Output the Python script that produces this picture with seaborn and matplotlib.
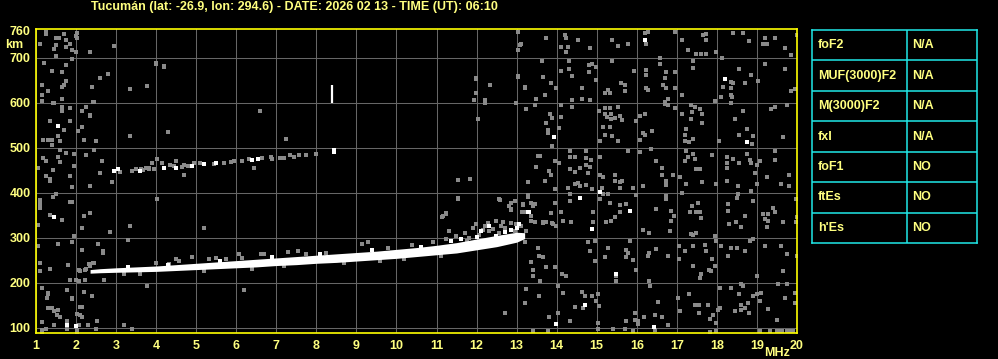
import matplotlib
matplotlib.use("Agg")
import matplotlib.pyplot as plt
import seaborn as sns
import pandas as pd

# ---------------- text ----------------
title = "Tucumán (lat: -26.9, lon: 294.6) - DATE: 2026 02 13 - TIME (UT): 06:10"
freq_ticks = list(range(1, 21))
height_ticks = [100, 200, 300, 400, 500, 600, 700, 760]
param_names = ["foF2", "MUF(3000)F2", "M(3000)F2", "fxI", "foF1", "ftEs", "h'Es"]
param_values = ["N/A", "N/A", "N/A", "N/A", "NO", "NO", "NO"]

# ---------------- main F-layer trace (MHz, km) ----------------
trace_freq = [2.35, 2.6, 3.0, 3.5, 4.0, 4.5, 5.0, 5.5, 6.0, 6.5, 7.0, 7.5, 8.0,
              8.5, 9.0, 9.5, 10.0, 10.5, 11.0, 11.5, 12.0, 12.5, 13.0, 13.2]
trace_low = [221, 222, 223, 224, 225, 227, 229, 231, 233, 235, 238, 240, 243,
             245, 248, 251, 254, 258, 262, 266, 273, 280, 290, 298]
trace_high = [229, 231, 233, 235, 237, 240, 243, 246, 249, 252, 255, 258, 261,
              264, 267, 270, 274, 278, 283, 289, 297, 305, 312, 311]

# grey speckle around the trace
trace_spread = [(4.9, 258), (5.32, 252), (5.49, 255), (5.74, 252), (6.07, 263), (6.14, 255),
                (6.61, 263), (6.7, 263), (7.28, 268), (7.53, 270), (7.74, 263), (8.24, 267),
                (4.57, 248), (3.99, 244), (2.45, 244), (2.32, 241), (2.24, 230), (2.07, 227),
                (4.32, 241), (4.49, 253), (9.15, 285), (9.3, 290), (11.24, 296), (11.49, 304),
                (11.9, 322), (11.99, 330), (12.2, 327), (12.28, 333), (12.32, 315), (12.49, 337),
                (12.65, 335), (12.86, 333), (12.99, 330), (13.11, 326), (13.14, 304), (12.95, 315),
                (12.57, 311), (12.82, 300), (12.95, 381), (12.82, 370), (12.86, 363), (13.15, 374),
                (13.36, 378), (13.42, 370), (13.65, 333), (13.89, 333), (13.86, 355), (12.57, 385),
                (11.53, 389), (11.24, 352), (11.15, 348), (11.7, 310), (11.8, 300), (12.05, 305),
                (12.4, 320), (12.7, 322), (10.9, 290), (10.4, 283), (9.8, 278), (11.3, 315),
                (3.2, 219), (3.6, 220), (5.2, 226), (6.4, 231), (7.2, 236), (8.7, 243),
                (9.6, 249), (10.2, 253), (11.1, 260), (11.75, 293), (12.15, 318), (12.6, 326)]
trace_bright = [(13.09, 307), (12.9, 296), (12.4, 289), (12.49, 304), (12.11, 315),
                (12.32, 326), (11.6, 298), (12.7, 312), (11.35, 292), (12.0, 301),
                (12.85, 318), (13.0, 322), (5.6, 248), (6.9, 257), (8.1, 263), (9.4, 272),
                (10.6, 280), (3.3, 235), (4.3, 239)]

# second-hop echo
echo2_freq = [3.09, 3.40, 3.49, 3.61, 3.67, 3.74, 3.82, 3.82, 3.89, 3.95, 4.03, 4.14, 4.34,
              4.45, 4.49, 4.65, 4.70, 4.80, 4.95, 5.09, 5.45, 5.70, 5.86, 5.95, 6.15, 6.32,
              6.64, 6.86, 6.90, 7.09, 7.20, 7.34, 7.45, 7.57, 7.74, 7.99, 4.03, 4.49]
echo2_height = [446, 448, 452, 453, 450, 456, 453, 454, 465, 452, 474, 465, 461,
                460, 470, 457, 461, 460, 465, 465, 463, 465, 469, 470, 470, 475,
                477, 480, 476, 478, 478, 483, 480, 483, 483, 487, 474, 470]
echo2_bright_freq = [2.94, 3.05, 3.59, 4.20, 4.49, 4.89, 5.20, 5.49, 6.39, 6.54, 8.45]
echo2_bright_height = [448, 452, 448, 454, 454, 460, 463, 465, 472, 475, 491]

# isolated vertical spike
spike_freq = [8.40]
spike_low = [600]
spike_high = [640]

# ---------------- background noise (MHz, km) ----------------
noise_left = [
    (1.14, 603), (1.43, 600), (1.64, 591), (1.64, 581), (1.85, 588), (2.14, 581), (2.24, 591),
    (2.35, 571), (2.43, 601), (1.35, 559), (1.85, 559), (1.70, 540), (2.04, 537), (2.14, 546),
    (1.54, 527), (1.18, 518), (1.30, 518), (1.39, 518), (1.60, 514), (1.39, 505), (2.20, 518),
    (2.49, 514), (3.34, 525), (1.60, 496), (1.74, 488), (1.95, 487), (2.45, 496), (2.24, 483),
    (1.18, 477), (1.26, 470), (1.54, 479), (1.60, 468), (1.95, 460), (1.04, 455), (2.64, 470),
    (1.43, 451), (1.85, 438), (1.24, 438), (1.35, 431), (1.35, 427), (2.60, 444), (2.89, 423),
    (1.89, 413), (2.35, 414), (1.49, 396), (1.43, 391), (1.10, 383), (1.10, 374), (1.10, 366),
    (1.85, 379), (1.89, 379), (1.35, 351), (1.64, 340), (2.20, 348), (2.35, 355), (1.05, 329),
    (2.14, 322), (2.85, 312), (3.35, 325), (1.95, 303), (1.04, 281), (1.54, 285), (1.89, 290),
    (2.54, 285), (2.68, 270), (2.68, 266), (2.14, 272), (3.29, 294), (1.10, 244), (1.10, 225),
    (1.35, 231), (1.80, 240), (2.09, 225), (2.35, 238), (2.43, 244), (2.22, 229),
    (1.24, 757), (1.24, 752), (1.10, 730), (1.49, 743), (1.57, 743), (1.49, 728), (1.45, 720),
    (1.70, 752), (1.74, 740), (1.74, 723), (1.84, 730), (1.90, 717), (1.99, 713), (2.03, 756),
    (2.03, 743), (1.99, 748), (2.34, 713), (2.94, 726), (1.20, 688), (1.39, 671), (1.64, 668),
    (1.49, 704), (1.89, 698), (1.74, 683), (1.14, 639), (1.30, 626), (1.14, 617), (1.64, 636),
    (1.70, 639), (1.74, 648), (1.14, 604), (1.45, 599), (1.64, 608), (1.64, 589), (1.84, 589),
    (2.14, 582), (2.24, 591), (2.34, 572), (2.39, 634), (2.45, 602), (2.59, 656), (2.80, 665),
    (3.34, 630), (3.78, 637), (3.99, 688), (4.20, 680), (6.60, 582),
    (1.14, 188), (1.30, 177), (1.30, 174), (1.78, 183), (1.89, 166), (1.89, 163), (1.28, 166),
    (2.20, 179), (2.39, 170), (1.30, 144), (1.39, 144), (1.45, 137), (1.55, 140), (1.53, 129),
    (1.61, 124), (2.03, 131), (2.09, 127), (2.14, 124), (2.09, 146), (2.14, 146), (1.14, 112),
    (1.78, 114), (2.53, 114), (1.45, 105), (2.07, 105), (2.30, 105), (2.49, 97), (3.20, 105),
    (3.39, 97), (1.14, 94), (1.24, 96), (1.78, 97), (2.03, 94), (3.78, 192), (6.20, 183),
    (1.84, 206), (1.99, 206), (2.07, 203), (2.22, 205), (2.69, 205), (1.14, 91), (2.03, 91),
]
noise_middle = [
    (3.99, 687), (4.20, 682), (6.59, 581), (4.30, 534), (7.24, 519), (4.70, 439), (6.45, 456),
    (4.03, 387), (5.20, 322), (11.99, 656), (12.34, 639), (11.99, 621), (11.94, 606),
    (12.20, 606), (12.20, 600), (13.03, 717), (13.03, 660), (12.99, 599), (13.03, 758),
    (13.09, 729), (13.03, 717), (13.03, 658), (13.20, 633), (11.99, 652), (13.24, 586),
    (12.04, 563), (11.54, 428), (11.84, 430), (13.29, 423), (11.54, 387), (12.59, 383),
    (12.85, 378), (12.95, 381), (12.85, 361), (13.15, 372), (13.28, 391), (11.24, 354),
    (11.14, 346), (3.82, 454), (4.95, 465),
]
noise_right_upper = [
    (13.10, 730), (13.74, 743), (14.20, 750), (14.24, 743), (14.10, 724), (14.24, 713),
    (14.28, 724), (14.53, 739), (14.84, 721), (15.39, 739), (15.54, 726), (15.79, 730),
    (16.20, 756), (16.28, 757), (16.24, 730), (16.95, 757), (17.14, 739), (17.29, 717),
    (17.49, 709), (17.65, 750), (17.74, 752), (17.74, 739), (17.61, 709), (17.74, 709),
    (17.99, 713), (18.12, 700), (18.39, 756), (18.64, 756), (18.79, 737), (19.14, 730),
    (19.24, 730), (19.20, 744), (19.45, 743), (19.70, 721), (19.84, 706), (19.99, 750),
    (13.64, 692), (13.65, 658), (13.20, 634), (13.49, 608), (13.72, 617), (13.85, 643),
    (13.99, 633), (14.11, 670), (14.30, 692), (14.30, 676), (14.39, 660), (14.64, 632),
    (14.64, 609), (14.39, 606), (14.80, 683), (14.80, 669), (14.88, 687), (14.99, 680),
    (14.99, 650), (14.84, 606), (15.20, 621), (15.28, 628), (15.32, 621), (15.60, 643),
    (15.70, 639), (15.70, 626), (15.39, 692), (15.94, 670), (16.24, 672), (16.24, 661),
    (16.24, 632), (16.28, 629), (16.59, 687), (16.59, 700), (16.74, 669), (16.70, 654),
    (16.65, 639), (16.72, 633), (16.95, 669), (16.95, 633), (16.79, 609), (16.70, 602),
    (17.14, 617), (17.40, 692), (17.40, 678), (17.95, 603), (18.15, 635), (18.34, 646),
    (18.34, 633), (18.40, 643), (18.34, 618), (18.37, 613), (18.34, 600), (18.54, 675),
    (18.70, 643), (18.84, 661), (19.03, 648), (19.20, 687), (19.70, 675), (19.84, 626),
    (19.94, 630), (18.10, 613),
    (13.24, 585), (13.47, 596), (13.84, 576), (13.89, 566), (13.74, 554), (13.78, 539),
    (13.78, 532), (13.89, 504), (14.10, 569), (14.05, 543), (14.39, 590), (14.10, 594),
    (15.05, 581), (15.20, 589), (15.34, 589), (15.20, 576), (15.36, 575), (15.25, 569),
    (15.45, 566), (15.57, 571), (15.36, 563), (15.64, 561), (15.53, 591), (15.15, 545),
    (15.34, 545), (15.20, 528), (15.39, 526), (15.07, 515), (15.54, 515), (15.99, 559),
    (16.09, 571), (16.20, 576), (16.15, 532), (16.20, 528), (16.09, 517), (16.39, 537),
    (16.70, 598), (16.79, 595), (16.95, 589), (17.14, 576), (17.35, 596), (17.45, 591),
    (17.39, 580), (17.57, 587), (17.64, 576), (17.35, 563), (17.64, 554), (17.24, 541),
    (17.20, 528), (17.20, 515), (17.30, 512), (17.40, 520), (18.05, 515), (18.45, 563),
    (18.64, 581), (18.74, 541), (18.54, 528), (18.87, 509), (18.89, 526), (19.34, 586),
    (19.45, 590), (19.74, 595), (19.65, 523),
    (13.53, 482), (13.59, 482), (13.49, 457), (13.82, 448), (13.86, 439), (13.95, 470),
    (14.05, 465), (14.34, 492), (14.34, 480), (14.45, 480), (14.34, 452), (14.45, 446),
    (14.59, 454), (14.74, 492), (14.74, 477), (14.74, 461), (14.82, 457), (14.86, 472),
    (14.78, 443), (15.09, 480), (15.09, 440), (15.15, 435), (15.45, 439), (15.78, 492),
    (16.09, 491), (16.36, 498), (16.49, 470), (16.64, 454), (16.63, 440), (16.90, 439),
    (17.09, 435), (17.24, 492), (17.28, 480), (17.20, 470), (17.40, 487), (17.45, 475),
    (17.49, 452), (17.59, 452), (17.89, 483), (18.25, 480), (18.40, 475), (18.25, 465),
    (18.25, 455), (18.55, 465), (18.74, 487), (18.82, 472), (18.84, 467), (18.99, 461),
    (19.07, 470), (18.95, 443), (19.24, 435), (19.45, 472), (19.45, 492), (19.80, 440),
]
noise_right_lower = [
    (13.28, 424), (13.72, 426), (13.95, 408), (14.28, 411), (14.45, 419), (14.53, 421),
    (14.57, 415), (14.74, 417), (14.89, 408), (15.14, 411), (15.45, 426), (15.57, 423),
    (15.64, 426), (15.57, 411), (15.90, 411), (16.15, 415), (16.74, 426), (16.74, 417),
    (17.24, 419), (17.64, 424), (17.99, 419), (18.24, 426), (18.53, 415), (18.86, 404),
    (18.99, 419), (19.59, 419), (19.80, 415), (13.28, 394), (13.40, 374), (13.15, 372),
    (13.14, 356), (13.24, 356), (13.36, 348), (13.36, 337), (13.45, 334), (13.65, 334),
    (13.74, 334), (13.90, 330), (13.99, 326), (13.45, 374), (13.95, 378), (14.11, 356),
    (14.15, 337), (14.36, 334), (14.32, 382), (14.32, 397), (14.90, 356), (14.90, 334),
    (15.15, 397), (15.07, 386), (15.28, 397), (15.32, 378), (15.57, 372), (15.57, 356),
    (15.74, 374), (15.45, 345), (15.36, 337), (15.22, 335), (15.97, 394), (16.15, 317),
    (16.30, 311), (16.49, 363), (16.74, 393), (16.74, 386), (16.86, 360), (16.86, 337),
    (16.92, 348), (17.14, 399), (17.32, 356), (17.39, 371), (17.49, 356), (17.57, 356),
    (17.53, 378), (17.61, 343), (16.84, 315), (17.36, 308), (17.49, 311), (17.40, 306),
    (17.95, 303), (18.28, 374), (18.28, 360), (18.30, 330), (18.47, 334), (18.53, 397),
    (18.49, 389), (18.61, 323), (18.70, 348), (18.90, 382), (19.15, 352), (19.28, 352),
    (19.45, 356), (19.20, 341), (19.28, 337), (19.40, 367), (19.65, 334), (19.97, 335),
    (19.99, 345), (19.97, 386), (19.24, 323), (13.24, 315), (13.20, 291),
    (13.53, 278), (13.57, 260), (13.65, 258), (13.36, 246), (13.40, 228), (13.40, 215),
    (13.74, 234), (13.95, 234), (14.14, 219), (14.24, 215), (14.78, 291), (14.95, 293),
    (14.82, 271), (14.95, 248), (15.28, 278), (15.20, 256), (15.49, 214), (15.74, 273),
    (15.78, 265), (15.74, 256), (15.90, 251), (15.99, 228), (15.82, 293), (16.30, 267),
    (16.28, 260), (16.49, 274), (16.78, 260), (17.05, 282), (17.05, 252), (17.20, 271),
    (17.40, 282), (17.70, 283), (17.74, 271), (17.89, 252), (17.86, 226), (17.61, 219),
    (17.57, 211), (17.40, 237), (17.80, 228), (17.95, 237), (17.99, 293), (18.11, 282),
    (18.28, 260), (18.34, 278), (18.49, 278), (18.70, 271), (18.82, 293), (18.90, 298),
    (18.99, 215), (19.20, 282), (19.59, 282), (19.74, 263), (19.64, 226), (19.99, 260),
    (12.70, 133), (13.24, 185), (13.20, 155), (13.55, 170), (13.59, 203), (14.03, 192),
    (14.15, 177), (13.80, 124), (14.03, 133), (14.32, 114), (14.45, 146), (14.65, 144),
    (14.64, 179), (14.70, 170), (14.89, 170), (15.03, 174), (14.99, 159), (15.05, 148),
    (15.04, 111), (15.04, 97), (15.49, 203), (15.40, 97), (15.70, 96), (15.74, 114),
    (15.95, 133), (15.95, 118), (16.03, 114), (16.03, 107), (16.17, 124), (16.30, 203),
    (16.34, 192), (16.53, 157), (16.45, 129), (16.64, 124), (16.45, 94), (16.78, 105),
    (17.03, 166), (17.07, 137), (17.30, 174), (17.45, 151), (17.55, 151), (17.55, 133),
    (17.78, 151), (17.84, 120), (17.90, 129), (17.97, 111), (18.03, 140), (18.07, 188),
    (18.07, 144), (18.34, 188), (18.45, 137), (18.59, 196), (18.64, 192), (18.55, 174),
    (18.59, 151), (18.59, 140), (18.70, 144), (18.78, 155), (18.80, 133), (18.90, 170),
    (18.99, 174), (19.11, 177), (19.07, 159), (19.28, 142), (19.49, 118), (19.53, 196),
    (19.70, 166), (19.74, 196), (19.95, 177), (19.95, 155), (19.90, 92), (19.74, 92),
    (19.57, 92), (19.49, 93), (19.32, 92), (19.07, 92), (17.99, 92), (17.82, 91),
    (15.90, 92), (13.40, 92), (13.78, 92), (19.62, 92), (19.82, 92),
]
bright_noise = [
    (16.20, 739), (18.20, 652), (13.94, 523), (18.74, 513), (15.07, 402), (13.32, 356),
    (14.57, 389), (14.89, 320), (15.82, 360), (13.07, 330), (13.11, 304), (15.49, 219),
    (13.99, 108), (14.70, 151), (16.44, 101), (1.54, 548), (1.45, 346), (1.78, 105),
    (1.99, 103), (8.45, 495), (13.28, 356),
]

# ---------------- styling ----------------
BG = "black"
YEL = "#FFFF80"
SPINE = "#FFFF00"
GRID = "#666666"
DOT = "#8A8A8A"
CYAN = "#20E8E8"
FONT = ["Liberation Sans", "DejaVu Sans"]

sns.set_theme(style="dark")
plt.rcParams["font.family"] = FONT
plt.rcParams["font.weight"] = "bold"

W, H = 998, 359
fig = plt.figure(figsize=(W / 100, H / 100), dpi=100, facecolor=BG)
ax = fig.add_axes([36 / W, 26 / H, (797 - 36) / W, (333 - 29) / H])
ax.set_facecolor(BG)

ax.set_xlim(1, 20)
ax.set_ylim(88, 764)
ax.set_xticks(freq_ticks)
ax.set_xticklabels([str(v) for v in freq_ticks])
ax.set_yticks(height_ticks)
ax.set_yticklabels([str(v) for v in height_ticks])
ax.tick_params(axis="both", length=0, colors=YEL, labelsize=9)
ax.tick_params(axis="x", pad=5)
ax.tick_params(axis="y", pad=4)
for lab in ax.get_xticklabels() + ax.get_yticklabels():
    lab.set_fontweight("bold")
ax.grid(True, color=GRID, linewidth=0.75)
ax.set_axisbelow(True)
ygl = ax.get_ygridlines()
ygl[-1].set_visible(False)
for s in ax.spines.values():
    s.set_color(SPINE)
    s.set_linewidth(1.2)
    s.set_visible(True)

def frame(pts):
    return pd.DataFrame(pts, columns=["freq", "height"])

grey_df = pd.concat([frame(noise_left), frame(noise_middle), frame(noise_right_upper),
                     frame(noise_right_lower), frame(trace_spread),
                     pd.DataFrame({"freq": echo2_freq, "height": echo2_height})],
                    ignore_index=True)
white_df = pd.concat([frame(bright_noise), frame(trace_bright),
                      pd.DataFrame({"freq": echo2_bright_freq, "height": echo2_bright_height})],
                     ignore_index=True)

# main trace band
ax.fill_between(trace_freq, trace_low, trace_high, color="white", linewidth=0, zorder=3)

sns.scatterplot(data=grey_df, x="freq", y="height", ax=ax, marker="s", s=5,
                color=DOT, linewidth=0, zorder=2, legend=False)
sns.scatterplot(data=white_df, x="freq", y="height", ax=ax, marker="s", s=5,
                color="white", linewidth=0, zorder=4, legend=False)
ax.vlines(spike_freq, spike_low, spike_high, color="white", linewidth=1.6, zorder=4)

ax.set_xlabel("")
ax.set_ylabel("")

# axis unit labels and title
fig.text(14 / W, 1 - 45 / H, "km", color=YEL, fontsize=9, fontweight="bold",
         ha="center", va="center")
fig.text(777 / W, 1 - 353 / H, "MHz", color=YEL, fontsize=9, fontweight="bold",
         ha="center", va="center")
fig.text(91 / W, 1 - 7 / H, title, color=YEL, fontsize=9, fontweight="bold",
         ha="left", va="center")

# parameter table
tax = fig.add_axes([812 / W, 1 - 243 / H, (977 - 812) / W, (243 - 30) / H])
tax.set_facecolor(BG)
tax.set_xlim(0, 165)
tax.set_ylim(len(param_names), 0)
tax.set_xticks([])
tax.set_yticks([])
for s in tax.spines.values():
    s.set_color(CYAN)
    s.set_linewidth(1.1)
split = 95
tax.axvline(split, color=CYAN, linewidth=1.1)
for i in range(1, len(param_names)):
    tax.axhline(i, color=CYAN, linewidth=1.1)
for i, (n, v) in enumerate(zip(param_names, param_values)):
    tax.text(6, i + 0.5, n, color=YEL, fontsize=9, fontweight="bold", va="center", ha="left")
    tax.text(split + 5, i + 0.5, v, color=YEL, fontsize=9, fontweight="bold",
             va="center", ha="left")

fig.savefig("out.png", dpi=100, facecolor=BG)
